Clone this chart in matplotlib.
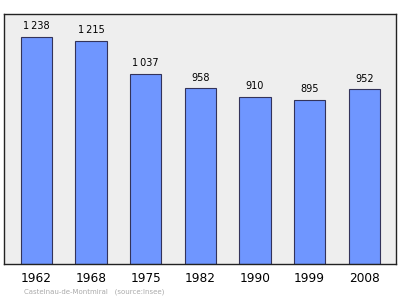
import matplotlib
matplotlib.use('Agg')
import matplotlib.pyplot as plt

# population by census year
years = ['1962', '1968', '1975', '1982', '1990', '1999', '2008']
population = [1238, 1215, 1037, 958, 910, 895, 952]
value_labels = ['1\u2009238', '1\u2009215', '1\u2009037', '958', '910', '895', '952']

fig = plt.figure(figsize=(4.0, 2.99), dpi=100)
# axes box: x 4..396 px, y 13.5..263.5 px
ax = fig.add_axes([4 / 400, (299 - 263.5) / 299, 392 / 400, 250 / 299])
ax.set_facecolor('#eeeeee')

x = range(len(years))
ax.bar(x, population, width=0.57, color='#6f96ff', edgecolor='#33335a', linewidth=0.8, zorder=2)

for i, v in enumerate(population):
    ax.text(i, v + 30, value_labels[i], ha='center', va='bottom', fontsize=7, color='black')

ax.set_xlim(-0.593, 6.58)
ax.set_ylim(0, 1365)
ax.set_yticks([])
ax.set_xticks(list(x))
ax.set_xticklabels(years, fontsize=8.7)
ax.tick_params(axis='x', length=0, pad=6)
for s in ax.spines.values():
    s.set_color('#222222')
    s.set_linewidth(1.0)

fig.text(24 / 400, 1 - 292 / 299, 'Castelnau-de-Montmiral   (source:Insee)',
         fontsize=5.0, color='#aaaaaa', va='center', ha='left')

fig.savefig('out.png', dpi=100)
